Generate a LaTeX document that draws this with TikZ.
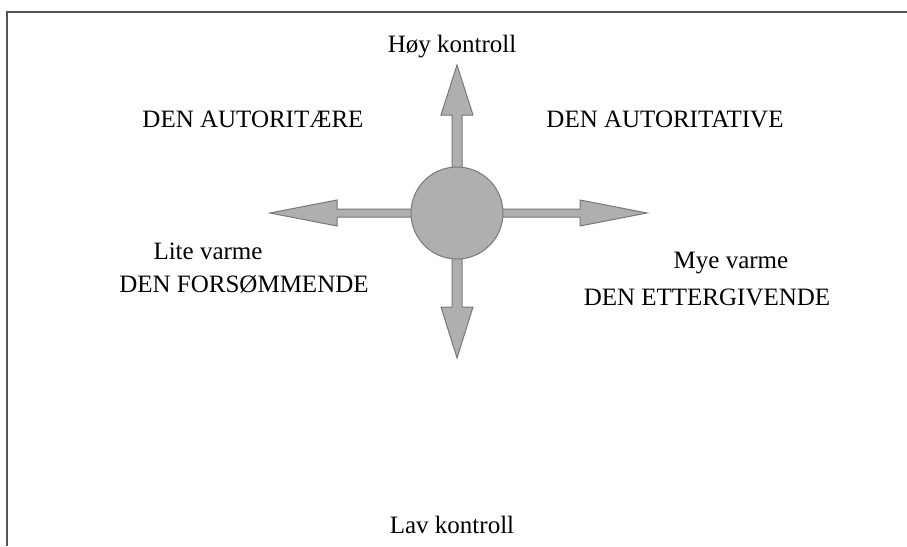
\documentclass[tikz,border=0pt]{standalone}
\usepackage{fontspec}
\setmainfont{Liberation Serif}
\usetikzlibrary{calc}
\begin{document}
\begin{tikzpicture}[x=1pt,y=-1pt,
  lbl/.style={inner sep=0pt,anchor=base,font=\fontsize{25}{30}\selectfont},
  arr/.style={fill={rgb,255:red,175;green,175;blue,175},draw={rgb,255:red,120;green,120;blue,120},line width=1pt,line join=miter},
  frame/.style={draw={rgb,255:red,85;green,85;blue,85},line width=2pt}]
\useasboundingbox (0,0) rectangle (907,546);
\draw[frame] (907,12) -- (7,12) -- (7,546);
% tips of the four arrows
\coordinate (tU) at (457,65);
\coordinate (tD) at (457,358);
\coordinate (tL) at (270,213);
\coordinate (tR) at (647,213);
% arrows
\draw[arr] (452,200) -- ($(tU)+(-5,50)$) -- ($(tU)+(-16,50)$) -- (tU) -- ($(tU)+(16,50)$) -- ($(tU)+(5,50)$) -- (462,200);
\draw[arr] (452,226) -- ($(tD)+(-5,-51)$) -- ($(tD)+(-16,-51)$) -- (tD) -- ($(tD)+(16,-51)$) -- ($(tD)+(5,-51)$) -- (462,226);
\draw[arr] (440,209) -- ($(tL)+(67,-4)$) -- ($(tL)+(67,-13)$) -- (tL) -- ($(tL)+(67,13)$) -- ($(tL)+(67,4)$) -- (440,217);
\draw[arr] (474,209) -- ($(tR)+(-67,-4)$) -- ($(tR)+(-67,-13)$) -- (tR) -- ($(tR)+(-67,13)$) -- ($(tR)+(-67,4)$) -- (474,217);
% center hub
\node[circle,minimum size=92pt,inner sep=0pt,arr] (c) at (457,213) {};
% labels
\node[lbl] (hoy) at (452,52) {Høy kontroll};
\node[lbl] (lav) at (452,533) {Lav kontroll};
\node[lbl] (aue) at (253,127) {DEN AUTORITÆRE};
\node[lbl] (auv) at (665,127) {DEN AUTORITATIVE};
\node[lbl] (lite) at (208,259) {Lite varme};
\node[lbl] (for) at (244,292) {DEN FORSØMMENDE};
\node[lbl] (mye) at (731,268) {Mye varme};
\node[lbl] (ett) at (707,305) {DEN ETTERGIVENDE};
\end{tikzpicture}
\end{document}
